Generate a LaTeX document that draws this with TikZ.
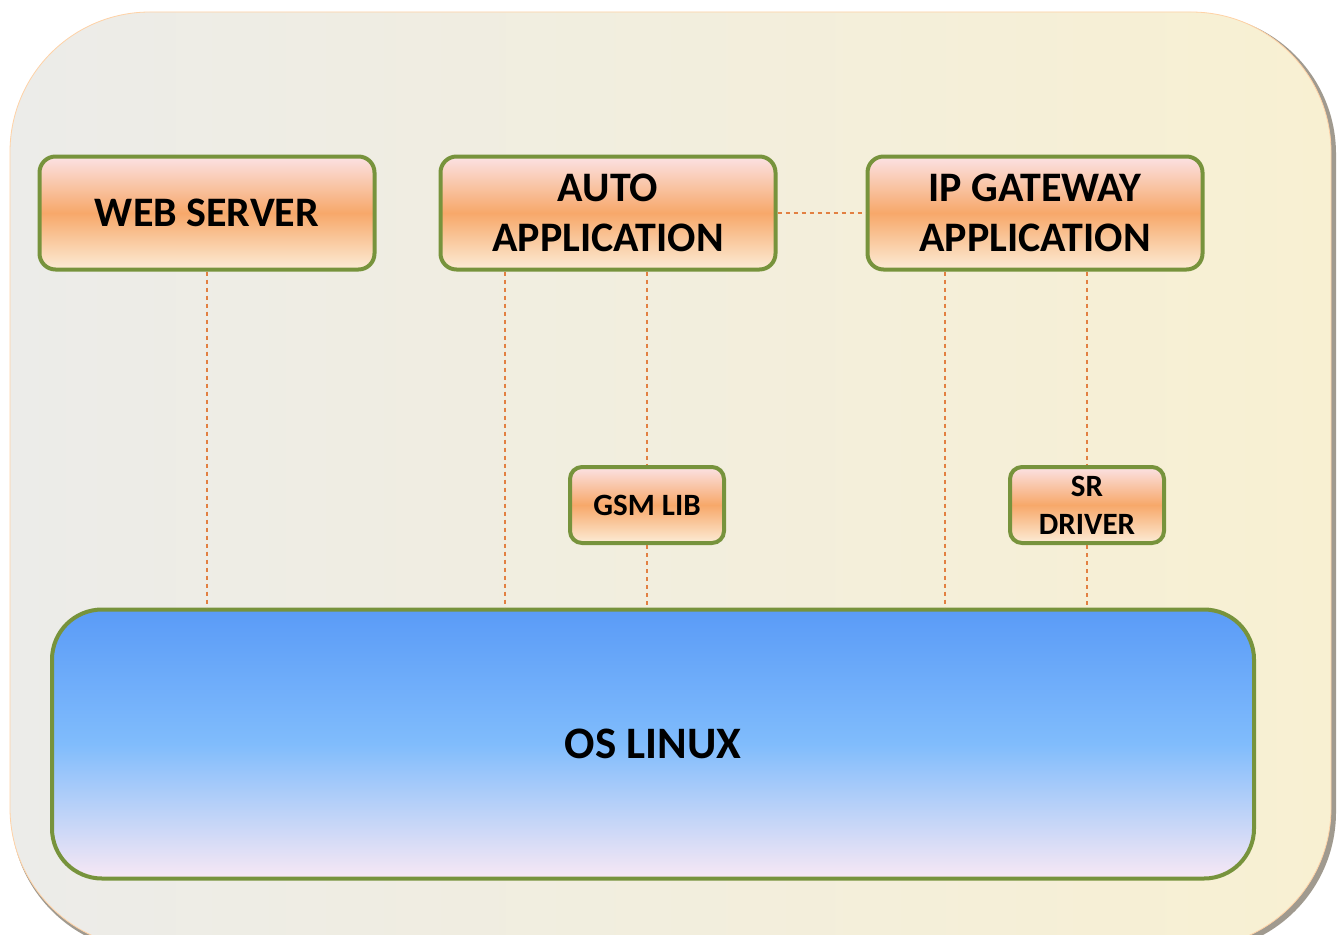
\documentclass[tikz,border=0pt]{standalone}
\usepackage{fontspec}
\setmainfont{Carlito}
\usepackage{tikz}

\definecolor{boxgreen}{RGB}{119,147,60}
\definecolor{linkorange}{RGB}{226,128,66}
\definecolor{boxtop}{RGB}{251,226,228}
\definecolor{boxmid}{RGB}{247,168,106}
\definecolor{boxbot}{RGB}{252,236,214}
\definecolor{ostop}{RGB}{90,155,247}
\definecolor{osmid}{RGB}{128,188,252}
\definecolor{osbot}{RGB}{248,232,244}
\definecolor{paneleft}{RGB}{236,236,233}
\definecolor{paneright}{RGB}{248,240,210}
\definecolor{paneshadow}{RGB}{120,110,95}

\tikzset{
  appbox/.style={draw=boxgreen, line width=4pt, rounded corners=16pt,
    top color=boxtop, bottom color=boxbot, middle color=boxmid,
    align=center, inner sep=0pt, minimum width=335pt, minimum height=113pt,
    font=\bfseries\fontsize{42}{50}\selectfont},
  libbox/.style={appbox, rounded corners=12pt, minimum width=154pt, minimum height=76pt,
    font=\bfseries\fontsize{31}{38}\selectfont},
  osbox/.style={appbox, rounded corners=50pt, minimum width=1202pt, minimum height=269pt,
    top color=ostop, bottom color=osbot, middle color=osmid,
    font=\bfseries\fontsize{45}{50}\selectfont},
  link/.style={draw=linkorange, line width=1.2pt, dash pattern=on 4pt off 4pt}
}

\begin{document}
\begin{tikzpicture}[x=1pt,y=-1pt]
  \useasboundingbox (0,0) rectangle (1340,934);
  \fill[white] (0,0) rectangle (1340,934);
  \clip (0,0) rectangle (1340,934);

  %Shape: outer panel with its shadow
  \fill[paneshadow!70, rounded corners=140pt] (11,14) rectangle (1336,952);
  \shade[left color=paneleft, right color=paneright, rounded corners=140pt] (10,12) rectangle (1331,948);
  \draw[orange!35, line width=0.8pt, rounded corners=140pt] (10,12) rectangle (1331,948);

  % application layer
  \node[appbox] (web)  at (207,213)  {WEB SERVER};
  \node[appbox] (auto) at (608,213)  {AUTO\\APPLICATION};
  \node[appbox] (ipgw) at (1035,213) {IP GATEWAY\\APPLICATION};

  % libraries and drivers
  \node[libbox] (gsm)   at (647,505)  {GSM LIB};
  \node[libbox] (srdrv) at (1087,505) {SR\\DRIVER};

  % operating system
  \node[osbox] (os) at (653,744) {OS LINUX};

  % dashed links
  \draw[link] (web.south) -- (web.south |- os.north);
  \draw[link] ([xshift=-103pt]auto.south) -- ([xshift=-103pt]auto.south |- os.north);
  \draw[link] (gsm.north |- auto.south) -- (gsm.north);
  \draw[link] (gsm.south) -- (gsm.south |- os.north);
  \draw[link] ([xshift=-90pt]ipgw.south) -- ([xshift=-90pt]ipgw.south |- os.north);
  \draw[link] (srdrv.north |- ipgw.south) -- (srdrv.north);
  \draw[link] (srdrv.south) -- (srdrv.south |- os.north);
  \draw[link] (auto.east) -- (ipgw.west);
\end{tikzpicture}
\end{document}
